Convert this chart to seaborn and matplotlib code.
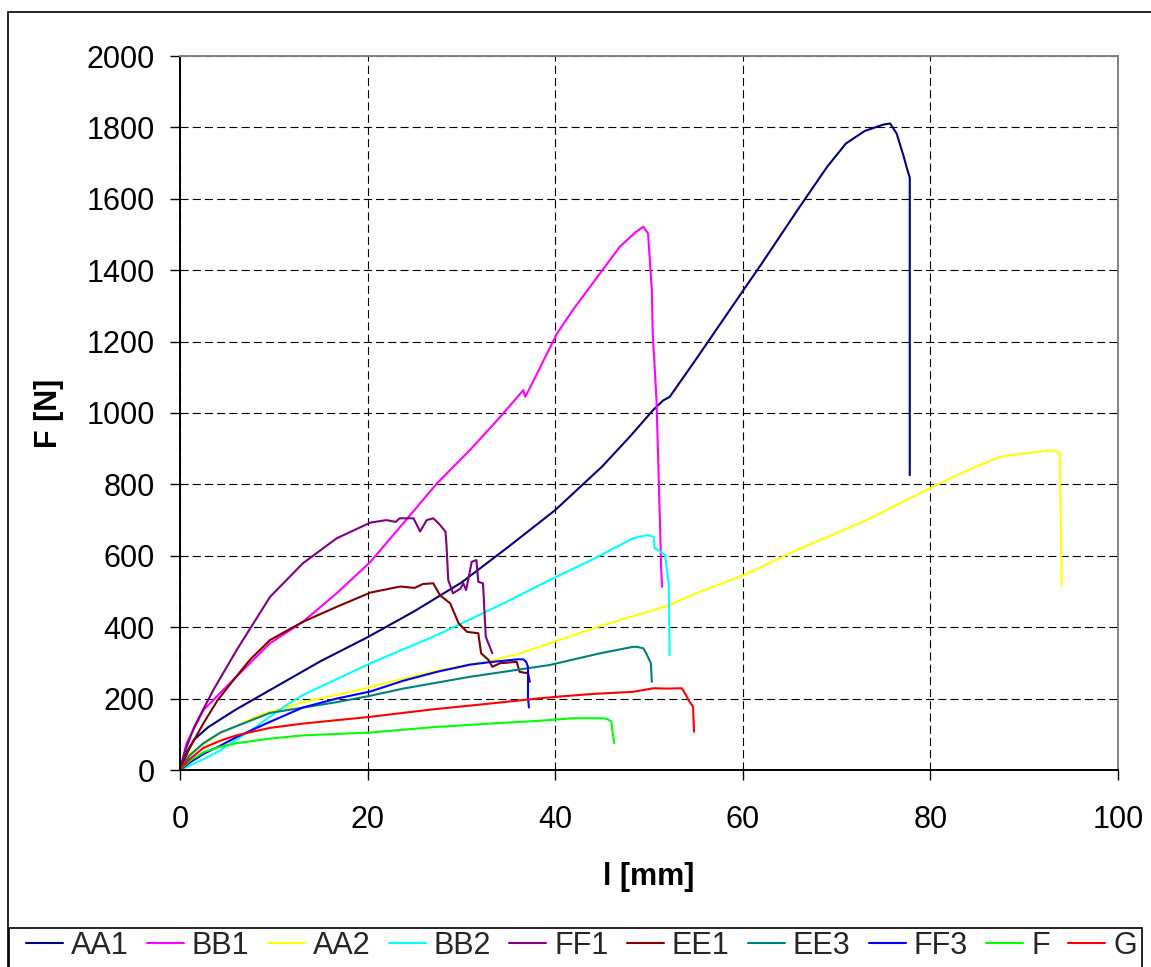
import numpy as np
import pandas as pd
import matplotlib
matplotlib.use("Agg")
import matplotlib.pyplot as plt
from matplotlib.patches import Rectangle
from matplotlib.lines import Line2D
import seaborn as sns

# ---------------- data ----------------
series_names = ["AA1", "BB1", "AA2", "BB2", "FF1", "EE1", "EE3", "FF3", "F", "G"]
series_colors = ["#000080", "#FF00FF", "#FFFF00", "#00FFFF", "#800080",
                 "#800000", "#008080", "#0000FF", "#00FF00", "#FF0000"]

aa1_x = [0, 0.5, 1.5, 3, 6, 10, 15, 20, 25, 30, 35, 40, 45, 48, 50.5, 51.5, 52.2,
         55, 58, 62, 66, 69, 71, 73, 75, 75.7, 76.4, 77.1, 77.6, 77.8, 77.8]
aa1_y = [0, 40, 85, 120, 170, 230, 305, 372, 445, 525, 625, 728, 850, 935, 1010, 1035, 1045,
         1150, 1265, 1418, 1575, 1690, 1755, 1790, 1808, 1811, 1783, 1723, 1676, 1660, 826]

bb1_x = [0, 0.7, 2.5, 4.6, 6, 9.6, 13.1, 16.7, 20.3, 23.8, 27.4, 30.9, 34, 36.6, 36.8, 37.2,
         40.2, 41.9, 44.8, 46.9, 48.5, 49.4, 49.9, 50.3, 50.4, 50.8, 51.0, 51.2, 51.3, 51.4]
bb1_y = [0, 75, 168, 224, 261, 355, 415, 495, 583, 691, 803, 896, 985, 1064, 1045, 1065,
         1223, 1289, 1392, 1466, 1505, 1522, 1503, 1345, 1223, 1036, 850, 663, 560, 513]

aa2_x = [0, 1.1, 4.3, 8.5, 13.1, 16.7, 20.3, 23.8, 27.4, 30.9, 33, 36, 39.4, 45, 52.2, 55.4,
         60.1, 66.1, 73.2, 80.3, 84, 87.4, 90, 93.1, 93.8, 93.8, 94.0]
aa2_y = [0, 47, 103, 154, 190, 210, 232, 256, 278, 296, 305, 325, 355, 405, 462, 499,
         546, 620, 700, 794, 840, 877, 887, 896, 887, 850, 518]

bb2_x = [0, 1, 2.5, 4.3, 6, 7.8, 9.6, 11.7, 13.1, 20.3, 27.4, 34.5, 39.4, 44, 48.3, 49.8,
         50.5, 50.6, 51.0, 51.7, 52.1, 52.2]
bb2_y = [0, 12, 30, 55, 85, 115, 150, 188, 210, 299, 378, 467, 532, 590, 649, 658,
         653, 621, 616, 602, 523, 322]

ff1_x = [0, 0.5, 1.5, 3.55, 6.04, 9.6, 13.1, 16.7, 20.3, 22, 23, 23.4, 24.9, 25.6, 26.3,
         27.0, 27.6, 28.3, 28.4, 28.6, 29.1, 29.9, 30.2, 30.5, 31.1, 31.6, 31.8, 32.3, 32.6, 33.3]
ff1_y = [0, 50, 120, 224, 336, 485, 579, 649, 693, 700, 695, 705, 705, 668, 700,
         705, 690, 668, 635, 532, 495, 508, 523, 504, 583, 588, 527, 523, 373, 327]

ee1_x = [0, 1, 2.5, 4, 5.7, 7.5, 9.6, 13.1, 16.7, 20.3, 23.5, 25.0, 25.9, 27.0, 27.7, 28.8,
         29.7, 30.6, 31.8, 32.1, 32.9, 33.3, 34.1, 35.9, 36.2, 37.1, 37.3]
ee1_y = [0, 60, 131, 195, 252, 310, 364, 415, 457, 497, 514, 510, 521, 523, 490, 467,
         411, 387, 383, 327, 308, 289, 299, 303, 275, 271, 247]

ee3_x = [0, 1, 2.5, 4.3, 9.6, 16.7, 20.3, 23.8, 30.9, 39.4, 44.8, 48.3, 48.7, 49.4, 49.7, 50.2, 50.3]
ee3_y = [0, 40, 75, 105, 160, 190, 208, 228, 261, 294, 327, 345, 345, 341, 327, 299, 247]

ff3_x = [0, 1, 2.5, 4.3, 6, 9.6, 13.1, 16.7, 20.3, 23.8, 27.4, 30.9, 33, 34.5, 36.0, 36.6,
         36.9, 37.1, 37.1, 37.2]
ff3_y = [0, 20, 45, 68, 92, 135, 175, 200, 220, 250, 275, 295, 302, 306, 310, 310,
         303, 289, 201, 175]

f_x = [0, 1, 2.5, 4.3, 6, 9.6, 13.1, 20.3, 27, 33, 38.4, 41.9, 44, 45.1, 45.6, 46.0, 46.1, 46.3]
f_y = [0, 25, 50, 65, 75, 88, 97, 105, 120, 130, 138, 145, 145, 145, 142, 135, 107, 75]

g_x = [0, 1, 2.5, 4.3, 6, 9.6, 13.1, 20.3, 27, 33, 38.4, 41, 44, 48.3, 50.5, 51.9, 53.5,
       53.9, 54.2, 54.7, 54.8]
g_y = [0, 30, 62, 82, 97, 118, 130, 149, 170, 186, 201, 207, 213, 219, 229, 228, 229,
       212, 196, 177, 107]

x_ticks = [0, 20, 40, 60, 80, 100]
y_ticks = list(range(0, 2001, 200))

series_x = [aa1_x, bb1_x, aa2_x, bb2_x, ff1_x, ee1_x, ee3_x, ff3_x, f_x, g_x]
series_y = [aa1_y, bb1_y, aa2_y, bb2_y, ff1_y, ee1_y, ee3_y, ff3_y, f_y, g_y]

frames = []
for name, xs, ys in zip(series_names, series_x, series_y):
    frames.append(pd.DataFrame({"l": xs, "F": ys, "series": name}))
df = pd.concat(frames, ignore_index=True)

# ---------------- style ----------------
sns.set_theme(style="white")
plt.rcParams["font.family"] = ["Liberation Sans", "DejaVu Sans"]
plt.rcParams["lines.scale_dashes"] = False

W, H = 1151, 967
fig = plt.figure(figsize=(W / 100, H / 100), dpi=100)
fig.patch.set_facecolor("white")
ax = fig.add_axes([180 / W, 1 - 770 / H, (1118 - 180) / W, (770 - 56) / H])
ax.set_facecolor("white")

palette = dict(zip(series_names, series_colors))
sns.lineplot(data=df, x="l", y="F", hue="series", hue_order=series_names,
             palette=palette, sort=False, estimator=None, units="series",
             linewidth=1.5, legend=False, ax=ax)

ax.set_xlim(0, 100)
ax.set_ylim(0, 2000)
ax.set_xticks(x_ticks)
ax.set_yticks(y_ticks)
ax.set_xticklabels([str(v) for v in x_ticks])
ax.set_yticklabels([str(v) for v in y_ticks])

ax.set_axisbelow(True)
ax.grid(True, color="black", linestyle=(0, (5.8, 3.0)), linewidth=0.8)

for side in ["left", "bottom"]:
    ax.spines[side].set_color("black")
    ax.spines[side].set_linewidth(1.4)
for side in ["top", "right"]:
    ax.spines[side].set_color("#808080")
    ax.spines[side].set_linewidth(1.4)
    ax.spines[side].set_visible(True)

ax.tick_params(axis="both", direction="out", length=7, width=1.0, colors="black",
               labelsize=22, left=True, bottom=True)
ax.tick_params(axis="y", pad=11)
ax.tick_params(axis="x", pad=18)

ax.set_xlabel("l [mm]", fontsize=22, fontweight="bold", labelpad=20, color="black")
ax.set_ylabel("F [N]", fontsize=22, fontweight="bold", labelpad=16, color="black")

# legend (packed in one row, frame drawn separately so it runs off the bottom)
handles = [Line2D([0], [0], color=c, lw=1.5) for c in series_colors]
leg = fig.legend(handles, series_names, loc="upper left",
                 bbox_to_anchor=(26 / W, 1 - 931 / H),
                 ncol=10, frameon=False, fontsize=22, handlelength=1.21,
                 handletextpad=0.26, borderpad=0.0, borderaxespad=0,
                 columnspacing=0.6)

fig.patches.append(Rectangle((9 / W, -0.05), (1142 - 9) / W, (967 - 928) / H + 0.05,
                             transform=fig.transFigure, fill=False,
                             edgecolor="black", linewidth=1.2))

# outer border of the chart area
fig.patches.append(Rectangle((8 / W, -0.05), 1.2, (1 - 12 / H) + 0.05,
                             transform=fig.transFigure, fill=False,
                             edgecolor="black", linewidth=1.2))

fig.savefig("out.png", dpi=100, facecolor="white")
